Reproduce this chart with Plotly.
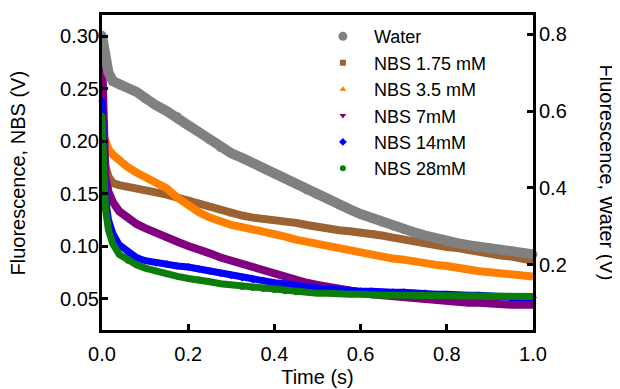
import plotly.graph_objects as go

# ---- data ----
time_s = [0, 0.004, 0.008, 0.015, 0.025, 0.04, 0.06, 0.08, 0.10,
          0.125, 0.15, 0.175, 0.2, 0.225, 0.25, 0.275, 0.3, 0.325, 0.35, 0.375,
          0.4, 0.425, 0.45, 0.475, 0.5, 0.525, 0.55, 0.575, 0.6, 0.625, 0.65,
          0.675, 0.7, 0.725, 0.75, 0.775, 0.8, 0.825, 0.85, 0.875, 0.9, 0.925,
          0.95, 0.975, 1.0]

water = [0.797, 0.76, 0.735, 0.70, 0.678, 0.668, 0.66, 0.65, 0.632,
         0.615, 0.60, 0.585, 0.563, 0.545, 0.525, 0.505, 0.49, 0.478, 0.464, 0.451,
         0.438, 0.424, 0.41, 0.395, 0.382, 0.37, 0.356, 0.344, 0.332, 0.321, 0.311,
         0.301, 0.292, 0.284, 0.276, 0.268, 0.261, 0.256, 0.251, 0.247, 0.243, 0.24,
         0.236, 0.232, 0.227]

nbs_1_75 = [0.228, 0.19, 0.176, 0.166, 0.160, 0.158, 0.156, 0.155, 0.153,
            0.151, 0.149, 0.146, 0.144, 0.141, 0.138, 0.134, 0.131, 0.129, 0.127, 0.126,
            0.124, 0.123, 0.122, 0.120, 0.118, 0.117, 0.115, 0.114, 0.113, 0.112, 0.110,
            0.108, 0.106, 0.104, 0.102, 0.101, 0.099, 0.098, 0.096, 0.095, 0.093, 0.091,
            0.090, 0.088, 0.086]

nbs_3_5 = [0.210, 0.205, 0.198, 0.192, 0.187, 0.181, 0.175, 0.170, 0.166,
           0.161, 0.155, 0.146, 0.138, 0.132, 0.127, 0.123, 0.120, 0.118, 0.116, 0.113,
           0.111, 0.109, 0.106, 0.104, 0.102, 0.100, 0.097, 0.095, 0.093, 0.092, 0.090,
           0.088, 0.087, 0.085, 0.084, 0.082, 0.081, 0.079, 0.078, 0.076, 0.075, 0.074,
           0.073, 0.072, 0.071]

nbs_7 = [0.283, 0.19, 0.165, 0.152, 0.142, 0.133, 0.126, 0.121, 0.117,
         0.112, 0.108, 0.104, 0.100, 0.097, 0.093, 0.089, 0.086, 0.083, 0.079, 0.076,
         0.073, 0.070, 0.068, 0.065, 0.063, 0.061, 0.059, 0.057, 0.056, 0.054, 0.053,
         0.052, 0.051, 0.050, 0.049, 0.048, 0.048, 0.047, 0.046, 0.046, 0.045, 0.045,
         0.044, 0.044, 0.044]

nbs_14 = [0.238, 0.17, 0.145, 0.125, 0.112, 0.101, 0.094, 0.089, 0.086,
          0.084, 0.083, 0.081, 0.080, 0.078, 0.076, 0.074, 0.072, 0.070, 0.068, 0.067,
          0.065, 0.064, 0.062, 0.061, 0.060, 0.059, 0.058, 0.058, 0.057, 0.057, 0.056,
          0.056, 0.056, 0.055, 0.055, 0.054, 0.054, 0.053, 0.053, 0.053, 0.052, 0.052,
          0.051, 0.051, 0.051]

nbs_28 = [0.224, 0.16, 0.135, 0.115, 0.102, 0.092, 0.086, 0.082, 0.079,
          0.076, 0.073, 0.071, 0.069, 0.068, 0.066, 0.064, 0.063, 0.061, 0.060, 0.059,
          0.058, 0.057, 0.056, 0.056, 0.055, 0.055, 0.054, 0.054, 0.054, 0.053, 0.053,
          0.053, 0.053, 0.053, 0.053, 0.053, 0.052, 0.052, 0.052, 0.052, 0.052, 0.052,
          0.052, 0.052, 0.052]

x_ticks = [0.0, 0.2, 0.4, 0.6, 0.8, 1.0]
x_labels = ["0.0", "0.2", "0.4", "0.6", "0.8", "1.0"]
y_ticks = [0.05, 0.10, 0.15, 0.20, 0.25, 0.30]
y_labels = ["0.05", "0.10", "0.15", "0.20", "0.25", "0.30"]
y2_ticks = [0.2, 0.4, 0.6, 0.8]
y2_labels = ["0.2", "0.4", "0.6", "0.8"]

series = [
    ("Water", water, "#808080", "circle", 9, 10, "y2"),
    ("NBS 1.75 mM", nbs_1_75, "#9c6232", "square", 6, 8, "y"),
    ("NBS 3.5 mM", nbs_3_5, "#ff8000", "triangle-up", 6, 8, "y"),
    ("NBS 7mM", nbs_7, "#800080", "triangle-down", 6, 8, "y"),
    ("NBS 14mM", nbs_14, "#0000ff", "diamond", 6, 7, "y"),
    ("NBS 28mM", nbs_28, "#0a7d0a", "circle", 6, 7, "y"),
]

fig = go.Figure()
for name, vals, color, sym, msize, lw, ax in series:
    fig.add_trace(go.Scatter(x=time_s, y=vals, mode="lines", yaxis=ax,
                             line=dict(color=color, width=lw), showlegend=False,
                             hoverinfo="skip"))
    fig.add_trace(go.Scatter(x=time_s, y=vals, mode="markers", name=name, yaxis=ax,
                             marker=dict(color=color, symbol=sym, size=msize),
                             cliponaxis=False))

font_family = "Liberation Sans, Arial, sans-serif"
axis_common = dict(ticks="inside", ticklen=6, tickwidth=3, tickcolor="black",
                   showline=True, linewidth=3, linecolor="black",
                   showgrid=False, zeroline=False, tickfont=dict(size=20))

fig.update_layout(
    width=612, height=381,
    margin=dict(l=94, r=87, t=4, b=56),
    plot_bgcolor="white", paper_bgcolor="white",
    font=dict(family=font_family, size=19, color="black"),
    legend=dict(x=0.487, y=0.99, xanchor="left", yanchor="top",
                bgcolor="rgba(0,0,0,0)", font=dict(size=18),
                itemwidth=52, tracegroupgap=0),
    xaxis=dict(range=[0, 1.0], tickvals=x_ticks, ticktext=x_labels, mirror=True,
               ticklabelstandoff=4,
               title=dict(text="Time (s)", font=dict(size=20), standoff=6),
               **axis_common),
    yaxis=dict(range=[0.02, 0.32], tickvals=y_ticks, ticktext=y_labels,
               ticklabelstandoff=-4, **axis_common),
    yaxis2=dict(range=[0.03, 0.85], tickvals=y2_ticks, ticktext=y2_labels,
                overlaying="y", side="right", ticklabelstandoff=-1,
                **axis_common),
    annotations=[
        dict(text="Fluorescence, NBS (V)", xref="paper", yref="paper",
             x=-0.195, y=0.5, textangle=-90, showarrow=False,
             font=dict(size=20), xanchor="center", yanchor="middle"),
        dict(text="Fluorescence, Water (V)", xref="paper", yref="paper",
             x=1.174, y=0.5, textangle=90, showarrow=False,
             font=dict(size=20), xanchor="center", yanchor="middle"),
    ],
)

fig.write_html("out.html")
